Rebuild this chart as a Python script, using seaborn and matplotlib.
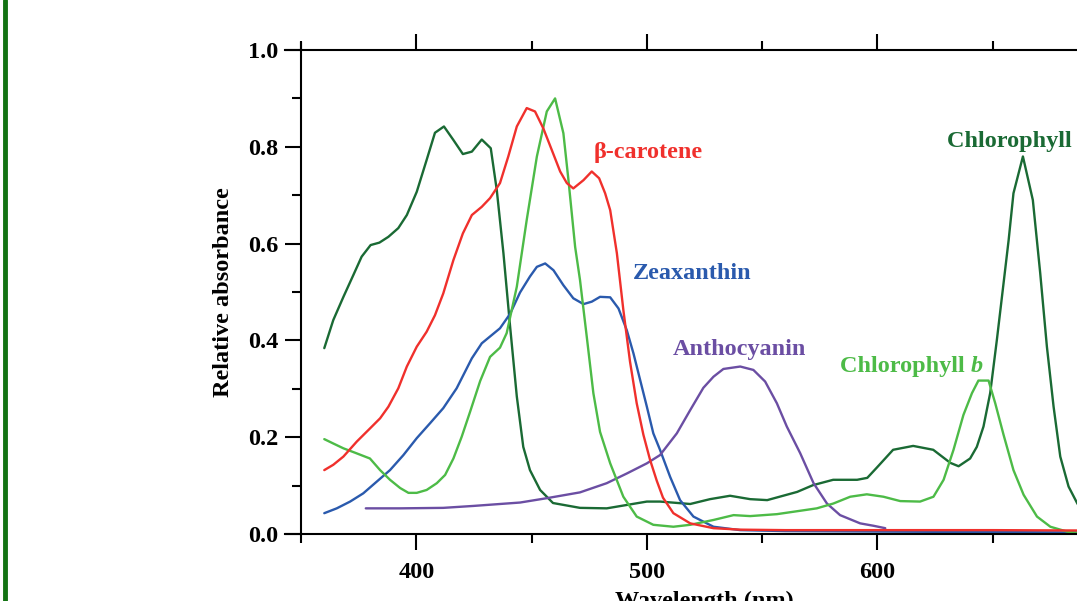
import numpy as np
import pandas as pd
import matplotlib
matplotlib.use("Agg")
import matplotlib.pyplot as plt
import seaborn as sns
from matplotlib.lines import Line2D
from matplotlib.ticker import MultipleLocator, FormatStrFormatter

# ---------------- data ----------------
chl_a_nm = [360.1, 364.0, 368.4, 372.7, 376.3, 380.2, 384.0, 387.9, 392.2, 395.9,
            400.2, 404.5, 408.1, 412.0, 416.1, 420.2, 424.1, 428.4, 432.3, 434.9,
            437.8, 440.7, 443.6, 446.4, 449.3, 453.7, 459.3, 471.0, 482.6, 491.3,
            500.0, 505.7, 518.8, 527.4, 536.1, 544.8, 552.2, 565.2, 572.1, 580.8,
            591.2, 595.6, 599.9, 606.8, 615.5, 624.2, 631.6, 635.2, 640.2, 643.1,
            646.0, 648.9, 651.8, 654.7, 656.9, 659.0, 663.1, 667.4, 670.6, 673.5,
            676.4, 679.3, 682.9, 686.7, 690.0, 695.0, 700.0]
chl_a_abs = [0.384, 0.442, 0.490, 0.535, 0.573, 0.597, 0.602, 0.614, 0.632, 0.659,
             0.707, 0.773, 0.829, 0.842, 0.814, 0.785, 0.790, 0.815, 0.797, 0.711,
             0.580, 0.428, 0.284, 0.180, 0.132, 0.091, 0.064, 0.054, 0.053, 0.060,
             0.067, 0.067, 0.062, 0.072, 0.079, 0.072, 0.070, 0.087, 0.101, 0.112,
             0.112, 0.116, 0.138, 0.174, 0.182, 0.174, 0.147, 0.140, 0.156, 0.180,
             0.222, 0.291, 0.401, 0.518, 0.607, 0.704, 0.780, 0.690, 0.539, 0.387,
             0.263, 0.160, 0.098, 0.063, 0.040, 0.022, 0.012]

carotene_nm = [360.1, 364.0, 368.4, 374.2, 379.9, 384.3, 387.9, 392.2, 395.9, 400.2,
               404.5, 408.1, 411.7, 416.1, 420.2, 424.1, 428.4, 432.0, 436.3, 439.9,
               443.6, 447.9, 451.5, 455.1, 458.8, 462.4, 465.3, 468.1, 472.5, 476.1,
               479.3, 481.9, 484.1, 487.0, 489.8, 492.7, 495.6, 498.5, 501.4, 504.3,
               507.0, 511.5, 518.8, 528.9, 540.5, 560.0, 600.0, 650.0, 700.0]
carotene_abs = [0.132, 0.143, 0.160, 0.191, 0.218, 0.239, 0.263, 0.301, 0.346, 0.387,
                0.418, 0.452, 0.497, 0.566, 0.621, 0.659, 0.676, 0.694, 0.725, 0.780,
                0.842, 0.880, 0.873, 0.838, 0.793, 0.749, 0.725, 0.714, 0.731, 0.749,
                0.735, 0.704, 0.669, 0.580, 0.463, 0.356, 0.270, 0.205, 0.153, 0.110,
                0.075, 0.043, 0.022, 0.012, 0.009, 0.008, 0.008, 0.008, 0.007]

zea_nm = [360.1, 365.5, 371.3, 377.0, 382.8, 388.6, 394.4, 400.2, 406.0, 411.7,
          417.5, 424.1, 428.4, 436.3, 440.7, 445.0, 449.3, 452.3, 455.9, 459.5,
          463.8, 468.1, 472.5, 476.1, 479.7, 484.1, 487.7, 491.3, 494.2, 497.1,
          500.0, 502.8, 505.7, 510.1, 514.4, 520.2, 528.9, 540.5, 560.0, 600.0,
          650.0, 700.0]
zea_abs = [0.043, 0.053, 0.067, 0.084, 0.108, 0.132, 0.163, 0.198, 0.229, 0.260,
           0.301, 0.363, 0.394, 0.425, 0.455, 0.499, 0.532, 0.552, 0.559, 0.545,
           0.514, 0.487, 0.475, 0.480, 0.490, 0.489, 0.466, 0.421, 0.373, 0.318,
           0.263, 0.208, 0.174, 0.118, 0.070, 0.036, 0.015, 0.008, 0.006, 0.005,
           0.004, 0.003]

antho_nm = [378.1, 392.9, 411.7, 424.8, 436.3, 445.0, 456.6, 471.0, 482.6, 491.3,
            500.0, 505.7, 513.0, 518.8, 524.5, 528.9, 533.2, 540.5, 546.2, 551.3,
            556.4, 560.7, 566.5, 572.3, 578.1, 583.8, 592.5, 598.3, 603.4]
antho_abs = [0.053, 0.053, 0.054, 0.058, 0.062, 0.065, 0.074, 0.086, 0.105, 0.125,
             0.146, 0.163, 0.208, 0.256, 0.302, 0.325, 0.341, 0.346, 0.339, 0.315,
             0.270, 0.222, 0.167, 0.105, 0.063, 0.039, 0.022, 0.017, 0.012]

chl_b_nm = [360.1, 364.0, 368.4, 373.4, 379.9, 384.3, 388.6, 393.0, 396.6, 400.2,
            404.5, 408.9, 412.5, 416.1, 419.7, 423.3, 427.7, 432.0, 436.3, 439.2,
            443.6, 447.9, 452.3, 456.6, 460.2, 463.8, 466.0, 468.9, 471.0, 474.0,
            476.8, 479.7, 484.1, 489.8, 495.6, 502.8, 511.5, 518.8, 528.9, 537.6,
            544.8, 556.4, 566.5, 573.7, 580.9, 588.2, 595.4, 602.6, 609.9, 618.5,
            624.3, 628.7, 633.0, 637.3, 641.0, 643.8, 648.2, 651.1, 654.7, 659.0,
            663.4, 669.2, 675.0, 682.2, 686.7, 700.0]
chl_b_abs = [0.196, 0.187, 0.177, 0.168, 0.156, 0.132, 0.112, 0.095, 0.085, 0.085,
             0.091, 0.105, 0.122, 0.156, 0.201, 0.252, 0.316, 0.366, 0.385, 0.415,
             0.511, 0.649, 0.780, 0.873, 0.900, 0.828, 0.731, 0.593, 0.525, 0.405,
             0.291, 0.211, 0.146, 0.077, 0.036, 0.019, 0.015, 0.019, 0.029, 0.039,
             0.037, 0.041, 0.048, 0.053, 0.063, 0.077, 0.082, 0.077, 0.068, 0.067,
             0.077, 0.112, 0.174, 0.246, 0.291, 0.317, 0.317, 0.270, 0.205, 0.132,
             0.081, 0.036, 0.015, 0.005, 0.002, 0.000]

y_ticks = [0.0, 0.2, 0.4, 0.6, 0.8, 1.0]
x_ticks = [400, 500, 600]

# ---------------- style ----------------
sns.set_style("ticks")
plt.rcParams["font.family"] = ["Liberation Serif", "DejaVu Serif"]
plt.rcParams["font.weight"] = "bold"
plt.rcParams["axes.labelweight"] = "bold"
for key in ["text.color", "axes.labelcolor", "xtick.color", "ytick.color",
            "xtick.labelcolor", "ytick.labelcolor"]:
    plt.rcParams[key] = "black"

C_CHLA = "#1a6a34"
C_CHLB = "#4dbb47"
C_CAR = "#f0302c"
C_ZEA = "#2a5aad"
C_ANT = "#6b4ea3"

FS = 17.5
LW = 1.7

fig = plt.figure(figsize=(10.77, 6.01), dpi=100)
fig.patch.set_facecolor("white")
ax = fig.add_axes([301 / 1077, 1 - 534 / 601, (1108 - 301) / 1077, (534 - 50) / 601])

series = [
    (chl_a_nm, chl_a_abs, C_CHLA),
    (zea_nm, zea_abs, C_ZEA),
    (antho_nm, antho_abs, C_ANT),
    (chl_b_nm, chl_b_abs, C_CHLB),
    (carotene_nm, carotene_abs, C_CAR),
]
for xs, ys, col in series:
    sns.lineplot(x=xs, y=ys, color=col, lw=LW, ax=ax, sort=False,
                 estimator=None, legend=False)

ax.set_xlim(350, 700)
ax.set_ylim(0, 1.0)

ax.xaxis.set_major_locator(plt.FixedLocator(x_ticks))
ax.xaxis.set_minor_locator(MultipleLocator(50))
ax.yaxis.set_major_locator(plt.FixedLocator(y_ticks))
ax.yaxis.set_minor_locator(MultipleLocator(0.1))
ax.yaxis.set_major_formatter(FormatStrFormatter("%.1f"))

ax.tick_params(which="both", direction="out", width=1.5, color="black",
               labelcolor="black",
               top=True, bottom=True, left=True, right=True,
               labeltop=False, labelright=False)
ax.tick_params(which="major", length=11.5, labelsize=FS, pad=5)
ax.tick_params(which="minor", length=6.5)
ax.tick_params(axis="x", which="major", pad=9)
for lab in ax.get_xticklabels() + ax.get_yticklabels():
    lab.set_fontweight("bold")

for side in ["left", "bottom", "top", "right"]:
    ax.spines[side].set_linewidth(1.5)
    ax.spines[side].set_color("black")
ax.spines["top"].set_bounds(343, 700)
ax.spines["bottom"].set_bounds(343, 700)
ax.spines["left"].set_bounds(0, 1.015)

ax.set_xlabel("Wavelength (nm)", fontsize=FS, fontweight="bold", labelpad=5,
              color="black")
ax.set_ylabel("Relative absorbance", fontsize=FS, fontweight="bold", labelpad=10,
              color="black")

# ---------------- curve labels ----------------
def label(x, y, txt, col, tail=None):
    t = ax.text(x, y, txt, color=col, fontsize=FS, fontweight="bold",
                ha="left", va="baseline")
    if tail:
        ax.annotate(tail, xy=(1, 0), xycoords=t, ha="left", va="bottom",
                    color=col, fontsize=FS, fontweight="bold", style="italic")
    return t

label(630.3, 0.800, "Chlorophyll ", C_CHLA, "a")
label(476.7, 0.777, "\u03b2-carotene", C_CAR)
label(494.0, 0.527, "Zeaxanthin", C_ZEA)
label(511.4, 0.370, "Anthocyanin", C_ANT)
label(583.8, 0.335, "Chlorophyll ", C_CHLB, "b")

# green border line at the left of the slide
fig.add_artist(Line2D([5 / 1077, 5 / 1077], [0, 1], transform=fig.transFigure,
                      color="#137313", lw=3.5))

fig.savefig("out.png", dpi=100, facecolor="white")
